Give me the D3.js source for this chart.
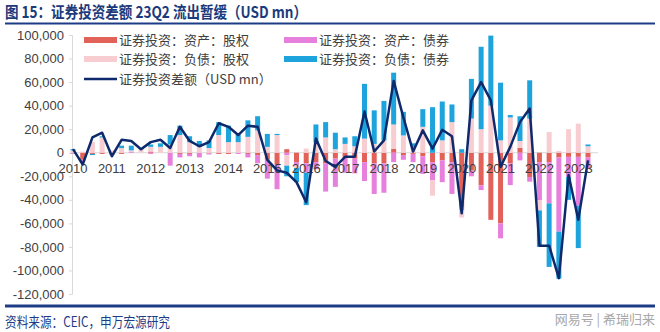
<!DOCTYPE html>
<html>
<head>
<meta charset="utf-8">
<script src="https://cdn.jsdelivr.net/npm/d3@7"></script>
<style>
  body { margin: 0; background: #fff; }
  svg text { font-family: "Noto Sans CJK SC", "Liberation Sans", sans-serif; }
  .num { font-family: "Liberation Sans", Arial, sans-serif !important; }
</style>
</head>
<body>
<div id="chart"></div>
<script>
// quarterly portfolio investment flows, USD mn, 2010Q1 - 2023Q2
var quarters = [];
d3.range(2010, 2024).forEach(function(y) {
  [1, 2, 3, 4].forEach(function(q) {
    if (y < 2023 || q <= 2) quarters.push(y + "Q" + q);
  });
});

var yearLabels = ["2010", "2011", "2012", "2013", "2014", "2015", "2016",
  "2017", "2018", "2019", "2020", "2021", "2022", "2023"];

var yTicks = [100000, 80000, 60000, 40000, 20000, 0, -20000, -40000,
  -60000, -80000, -100000, -120000];

var assetEquity = [0, -6000, -1000, -1000, -1000, -1000, 0, 0, 1000, 0, 0, -1000, -1000, 0,
  -500, -1000, -1000, 0, -1000, -2000, -6000, -10000, 3000, -8000, -9000, -8000,
  -9000, -5000, -4000, -5000, -8000, -9000, -9000, 3400, -2000, -1000, -3000, -8000, -6500, -8000,
  -46000, -15000, -27700, -57000, -60000, -9000, 4000, -20600, -8000, -8000, -4000, -3500, -3500, -4000];

var assetBond = [-1000, -1000, 0, 0, -1000, 0, 1000, 0, -1000, 0, -11000, -3000, -2000, -4000,
  -1000, 0, 0, -1000, -3000, -7000, -16000, -21000, -2000, -3000, -8000, -6000,
  -24000, -24000, -13000, -12500, -16000, -26000, -25000, -8000, -4000, -7000, -15000, -15500, -18500, -27000,
  -3000, -5000, -4000, 0, -12700, -18500, -6500, -4000, -32500, -35000, -63000, -17000, -41500, -9500];

var liabEquity = [2000, 1000, 9000, 13000, 2000, 4000, 1000, 3000, 4000, 5000, 7000, 15000, 9000, 5000,
  4000, 15000, 9000, 9000, 13500, 19000, 5000, 15000, -9000, -2000, 3500, 9000,
  13000, 3000, 7500, 5500, 12000, 7500, 10500, 20600, 14700, 5000, 22000, -13000, 10500, 26000,
  -6000, 29000, 20000, 40000, 10500, 30000, 6000, 29000, -8500, 17500, 1500, 20000, 24700, 5500];

var liabBond = [1000, 0, -1000, 1000, 0, 2000, 4000, 1000, 2000, 3000, 8000, 8000, 5000, 5000,
  6500, 11000, 14000, 6500, 14000, 12000, 11000, 1000, -9000, -12000, -27500, 15000,
  13000, 14000, 5500, 8500, 46500, 28500, 33500, 44000, 20000, 3000, 15000, 38700, 33000, 15000,
  3000, 33700, 70000, 59500, 49000, 2000, 21000, 32500, -31000, -54000, -40000, -19500, -36000, 1500];

var netFlow = [3000, -10000, 13000, 17000, -3000, 11000, 10000, 3000, 9000, 11000, 4000, 22000, 10000, 5500,
  9000, 25000, 22000, 15000, 23000, 22000, -6000, -15000, -17000, -25000, -42000, 12000,
  -7000, -12000, -3500, -3500, 35000, 1000, 10500, 61000, 30000, 1000, 19000, 3500, 19500, 14000,
  -51500, 44500, 60000, 44500, -12000, 5000, 26000, 37500, -79000, -79000, -106500, -19000, -57000, -6500];

var seriesNames = ["证券投资：资产：股权", "证券投资：资产：债券", "证券投资：负债：股权", "证券投资：负债：债券"];
var colors = ["#E2625A", "#E680DC", "#F7CDD1", "#1DA4DC"];
var lineColor = "#0E2A6C";
var navy = "#1E3C86";

var width = 660, height = 332;

var rows = quarters.map(function(q, i) {
  return { q: q, s0: assetEquity[i], s1: assetBond[i], s2: liabEquity[i], s3: liabBond[i], net: netFlow[i] };
});

var stack = d3.stack()
  .keys(["s0", "s1", "s2", "s3"])
  .offset(d3.stackOffsetDiverging);

var x = d3.scalePoint()
  .domain(quarters)
  .range([73, 588]);

var y = d3.scaleLinear()
  .domain([-120000, 100000])
  .range([294, 35]);

var svg = d3.select("#chart").append("svg")
  .attr("width", width)
  .attr("height", height);

svg.append("rect").attr("width", width).attr("height", height).attr("fill", "#fff");

// title + rules
svg.append("text")
  .attr("x", 5)
  .attr("y", 18)
  .attr("font-size", 16)
  .attr("font-weight", "bold")
  .attr("fill", "#1B3A7B")
  .attr("textLength", 302)
  .attr("lengthAdjust", "spacingAndGlyphs")
  .text("图 15：证券投资差额 23Q2 流出暂缓（USD mn）");

svg.append("line")
  .attr("x1", 5).attr("x2", 655)
  .attr("y1", 23.5).attr("y2", 23.5)
  .attr("stroke", navy).attr("stroke-width", 2);

svg.append("line")
  .attr("x1", 5).attr("x2", 655)
  .attr("y1", 306).attr("y2", 306)
  .attr("stroke", navy).attr("stroke-width", 3);

svg.append("text")
  .attr("x", 5)
  .attr("y", 327)
  .attr("font-size", 14)
  .attr("fill", navy)
  .attr("textLength", 165)
  .attr("lengthAdjust", "spacingAndGlyphs")
  .text("资料来源：CEIC，申万宏源研究");

svg.append("text")
  .attr("x", 655)
  .attr("y", 324)
  .attr("text-anchor", "end")
  .attr("font-size", 13)
  .attr("fill", "#a8a8a8")
  .text("网易号 | 希瑞归来");

// y axis
var yAxis = svg.append("g")
  .attr("transform", "translate(72,0)")
  .call(d3.axisLeft(y)
    .tickValues(yTicks)
    .tickSize(3)
    .tickPadding(5)
    .tickFormat(function(d) { return d3.format(",")(d).replace("−", "-"); }));

yAxis.select(".domain").attr("stroke", "#D9D9D9");
yAxis.selectAll(".tick line").attr("stroke", "#D9D9D9");
yAxis.selectAll(".tick text")
  .attr("class", "num")
  .attr("font-size", 13)
  .attr("fill", "#404040");

// zero line
svg.append("line")
  .attr("x1", 72).attr("x2", 598)
  .attr("y1", y(0)).attr("y2", y(0))
  .attr("stroke", "#D9D9D9");

// stacked bars
var layers = svg.selectAll(".layer")
  .data(stack(rows))
  .enter().append("g")
  .attr("class", "layer")
  .attr("fill", function(d, i) { return colors[i]; });

layers.selectAll("rect")
  .data(function(d) { return d; })
  .enter().append("rect")
  .attr("x", function(d) { return x(d.data.q) - 2.5; })
  .attr("width", 5)
  .attr("y", function(d) { return y(Math.max(d[0], d[1])); })
  .attr("height", function(d) { return Math.abs(y(d[0]) - y(d[1])); });

// year labels sit on the zero line, over the bars
svg.selectAll(".year")
  .data(yearLabels)
  .enter().append("text")
  .attr("class", "year num")
  .attr("x", function(d) { return x(d + "Q1"); })
  .attr("y", 173)
  .attr("text-anchor", "middle")
  .attr("font-size", 13)
  .attr("fill", "#404040")
  .text(function(d) { return d; });

// net line
var line = d3.line()
  .x(function(d) { return x(d.q); })
  .y(function(d) { return y(d.net); });

svg.append("path")
  .datum(rows)
  .attr("fill", "none")
  .attr("stroke", lineColor)
  .attr("stroke-width", 2.5)
  .attr("stroke-linejoin", "round")
  .attr("d", line);

// legend
var legendItems = [
  { name: seriesNames[0], color: colors[0], lx: 84, ly: 40 },
  { name: seriesNames[1], color: colors[1], lx: 284, ly: 40 },
  { name: seriesNames[2], color: colors[2], lx: 84, ly: 59 },
  { name: seriesNames[3], color: colors[3], lx: 284, ly: 59 },
  { name: "证券投资差额（USD mn）", color: lineColor, lx: 84, ly: 79, isLine: true }
];

var legend = svg.selectAll(".legend")
  .data(legendItems)
  .enter().append("g")
  .attr("class", "legend")
  .attr("transform", function(d) { return "translate(" + d.lx + "," + d.ly + ")"; });

legend.append("rect")
  .attr("x", 0)
  .attr("y", function(d) { return d.isLine ? -1.25 : -3; })
  .attr("width", 33)
  .attr("height", function(d) { return d.isLine ? 2.5 : 6; })
  .attr("fill", function(d) { return d.color; });

legend.append("text")
  .attr("x", 35)
  .attr("y", 0)
  .attr("dy", "0.35em")
  .attr("font-size", 13)
  .attr("fill", "#404040")
  .text(function(d) { return d.name; });
</script>
</body>
</html>
